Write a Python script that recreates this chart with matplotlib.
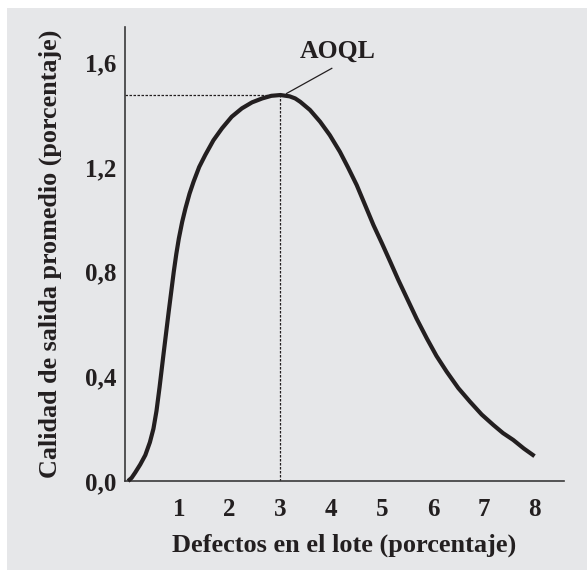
import matplotlib
matplotlib.use("Agg")
import matplotlib.pyplot as plt
from matplotlib.patches import Rectangle

# Data (x: % defectos, y: calidad de salida promedio %)
x_vals = [0.0, 0.07, 0.14, 0.24, 0.34, 0.43, 0.50, 0.56, 0.62, 0.70, 0.80, 0.90, 0.95,
          1.00, 1.065, 1.13, 1.21, 1.29, 1.40, 1.52, 1.68, 1.85, 2.04, 2.24, 2.44, 2.64,
          2.82, 3.00, 3.18, 3.29, 3.39, 3.58, 3.78, 3.97, 4.17, 4.33, 4.50, 4.66, 4.83,
          5.00, 5.16, 5.32, 5.49, 5.68, 5.88, 6.07, 6.27, 6.50, 6.73, 6.96, 7.19, 7.38,
          7.58, 7.79, 8.00]
y_vals = [0.0, 0.012, 0.032, 0.063, 0.099, 0.148, 0.200, 0.268, 0.358, 0.488, 0.647, 0.800,
          0.868, 0.927, 0.990, 1.042, 1.098, 1.144, 1.200, 1.246, 1.302, 1.348, 1.392, 1.424,
          1.447, 1.462, 1.472, 1.475, 1.470, 1.462, 1.449, 1.418, 1.373, 1.322, 1.258, 1.198,
          1.131, 1.057, 0.978, 0.907, 0.838, 0.768, 0.698, 0.620, 0.545, 0.478, 0.418, 0.355,
          0.303, 0.254, 0.214, 0.183, 0.157, 0.124, 0.095]
aoql_x = 3.0
aoql_y = 1.475
x_ticks = [1, 2, 3, 4, 5, 6, 7, 8]
y_ticks = [0.0, 0.4, 0.8, 1.2, 1.6]
y_ticklabels = ["0,0", "0,4", "0,8", "1,2", "1,6"]

W, H = 587, 570
fig = plt.figure(figsize=(W / 100, H / 100), dpi=100, facecolor="white")
bg = "#e6e7e9"
fig.patches.append(Rectangle((7 / W, 0), 1 - 7 / W, 1 - 8 / H, transform=fig.transFigure,
                             facecolor=bg, edgecolor="none", zorder=-10))

ax = fig.add_axes([125 / W, (H - 481) / H, (564 - 125) / W, (481 - 27) / H])
ax.set_facecolor("none")
ax.set_xlim(-0.06, 8.58)
ax.set_ylim(0, 1.735)

ink = "#231f20"
font = dict(family="Liberation Serif", weight="bold", color=ink)

ax.plot(x_vals, y_vals, color=ink, lw=3.0, solid_capstyle="butt", solid_joinstyle="round",
        zorder=3, clip_on=False)
ax.plot([-0.06, aoql_x], [aoql_y, aoql_y], color=ink, lw=0.9, ls=(0, (2, 1.2)))
ax.plot([aoql_x, aoql_x], [0, aoql_y], color=ink, lw=0.9, ls=(0, (2, 1.2)))

ax.text(4.13, 1.60, "AOQL", ha="center", va="bottom", fontsize=18.5, **font)
ax.plot([3.12, 4.01], [1.481, 1.577], color=ink, lw=0.9)

for s in ["top", "right"]:
    ax.spines[s].set_visible(False)
for s in ["left", "bottom"]:
    ax.spines[s].set_color("#3a3a3a")
    ax.spines[s].set_linewidth(1.2)

ax.set_xticks(x_ticks)
ax.set_xticklabels([str(t) for t in x_ticks])
ax.set_yticks(y_ticks)
ax.set_yticklabels(y_ticklabels)
ax.tick_params(axis="both", length=0)
ax.tick_params(axis="x", pad=12)
ax.tick_params(axis="y", pad=6)
for lab in ax.get_xticklabels() + ax.get_yticklabels():
    lab.set_fontfamily("Liberation Serif")
    lab.set_fontweight("bold")
    lab.set_fontsize(18)
    lab.set_color(ink)

ax.set_xlabel("Defectos en el lote (porcentaje)", fontsize=19, labelpad=9, **font)
ax.set_ylabel("Calidad de salida promedio (porcentaje)", fontsize=18.8, labelpad=17, **font)

fig.savefig("out.png", dpi=100, facecolor=fig.get_facecolor())
